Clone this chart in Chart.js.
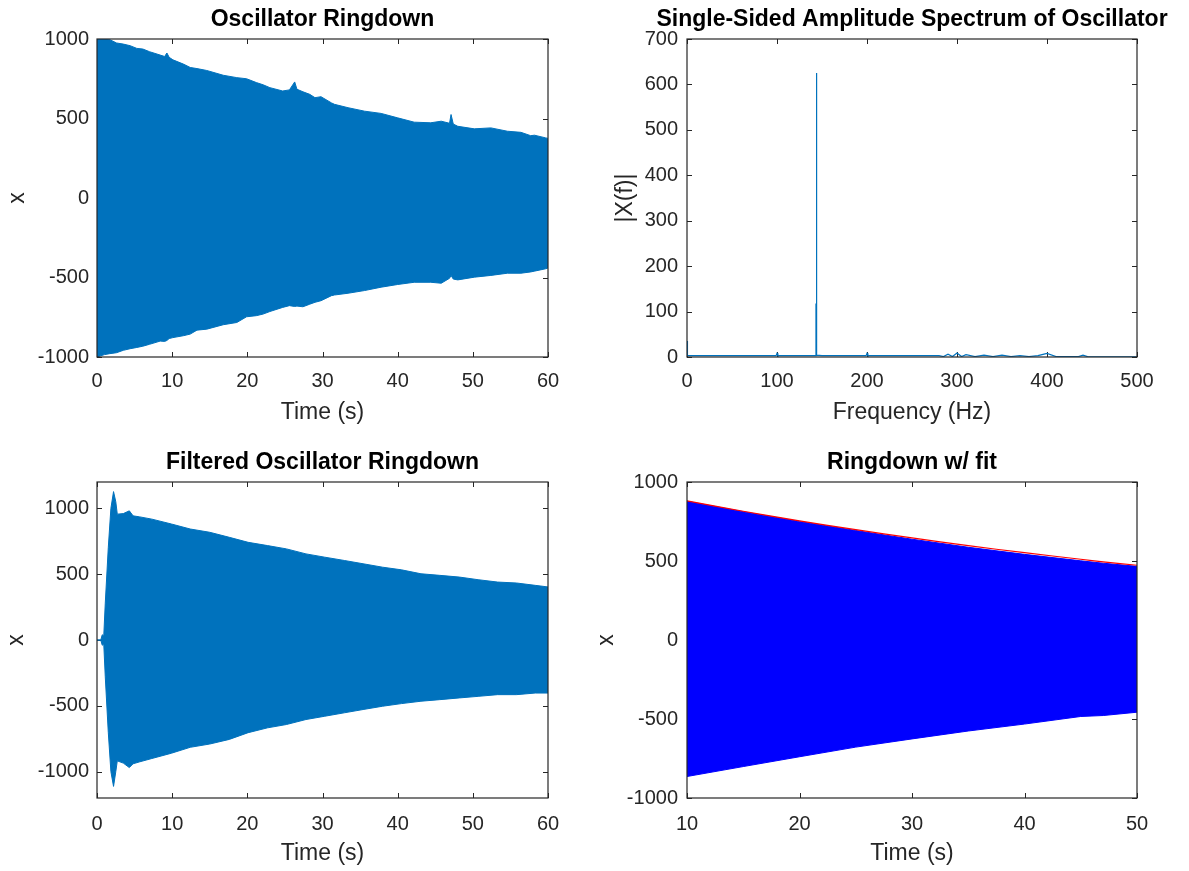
<!DOCTYPE html>
<html lang="en">
<head>
    <meta charset="UTF-8">
    <title>Oscillator Ringdown</title>
    <script src="https://cdn.jsdelivr.net/npm/chart.js"></script>
    <style>
        body {
            margin: 0;
            background: #ffffff;
            width: 1189px;
            height: 871px;
            position: relative;
            overflow: hidden;
        }
        .panel {
            position: absolute;
        }
    </style>
</head>
<body>
    <div class="panel" style="left:0px; top:0px;"><canvas id="rawChart" width="594" height="440"></canvas></div>
    <div class="panel" style="left:594px; top:0px;"><canvas id="specChart" width="595" height="440"></canvas></div>
    <div class="panel" style="left:0px; top:440px;"><canvas id="filtChart" width="594" height="431"></canvas></div>
    <div class="panel" style="left:594px; top:440px;"><canvas id="fitChart" width="595" height="431"></canvas></div>

    <script>
        // raw ringdown envelope (top left)
        const rawTime  = [0, 1.0, 1.7, 2.6, 3.5, 4.4, 5.3, 6.1, 7.0, 8.4, 9.0, 9.3, 9.6, 10.1, 11.5, 12.4, 13.3, 14.6, 16.8, 18.6, 19.9, 21.2, 22.1, 23.0, 24.7, 25.6, 26.3, 26.6, 27.4, 28.3, 29.0, 29.8, 31.2, 31.6, 33.4, 35.6, 37.8, 40.0, 42.2, 44.4, 45.8, 46.9, 47.1, 47.4, 48.0, 50.2, 52.4, 54.6, 56.4, 57.7, 58.2, 59.7, 60];
        const rawUpper = [1010, 1005, 996, 975, 968, 958, 941, 937, 920, 899, 890, 912, 885, 869, 842, 821, 814, 802, 772, 757, 750, 726, 712, 694, 673, 680, 730, 684, 668, 652, 631, 637, 598, 589, 568, 546, 532, 504, 477, 473, 483, 470, 525, 465, 451, 435, 441, 420, 413, 392, 395, 378, 375];
        const rawLower = [-1000, -985, -979, -973, -958, -948, -940, -932, -920, -900, -902, -896, -884, -878, -866, -856, -831, -825, -797, -783, -747, -740, -730, -714, -688, -677, -682, -680, -684, -668, -656, -646, -614, -610, -599, -582, -561, -544, -530, -530, -536, -505, -487, -510, -515, -498, -487, -473, -473, -465, -460, -445, -440];

        // single-sided amplitude spectrum (top right)
        const specFreq = [0, 0.5, 20, 50, 99, 100, 101, 140, 143.0, 143.3, 143.5, 143.8, 144.2, 150, 199, 200, 201, 250, 280, 285, 290, 295, 300, 305, 310, 320, 330, 340, 350, 360, 370, 380, 390, 400, 410, 435, 440, 445, 500];
        const specAmp  = [35, 3, 3, 3, 3, 8, 3, 3, 3, 118, 30, 625, 4, 3, 3, 8, 3, 3, 3, 1, 6, 1, 9, 1, 5, 1, 4, 1, 4, 1, 3, 1, 3, 8, 1, 1, 4, 1, 0.5];

        // filtered ringdown envelope (bottom left)
        const filtTime  = [0, 0.5, 0.7, 0.9, 1.1, 1.5, 1.85, 2.2, 2.5, 2.7, 3.5, 4.3, 4.8, 5.7, 7.3, 9.9, 12.4, 15.0, 17.6, 20.1, 22.7, 25.2, 27.8, 30.3, 32.9, 35.4, 38.0, 40.5, 43.1, 45.6, 48.2, 50.7, 53.3, 55.8, 58.3, 60];
        const filtUpper = [0, 0, 40, 30, 280, 700, 1000, 1127, 1050, 956, 960, 981, 943, 935, 918, 881, 843, 818, 780, 742, 717, 692, 654, 629, 604, 579, 553, 533, 503, 491, 478, 458, 440, 433, 415, 403];
        const filtLower = [0, 0, -40, -30, -280, -700, -1000, -1112, -1000, -918, -935, -969, -940, -925, -900, -860, -815, -790, -755, -704, -667, -642, -604, -579, -553, -528, -503, -483, -465, -453, -440, -428, -415, -415, -403, -403];

        // ringdown with exponential fit (bottom right)
        const fitTime  = [10, 15, 20, 25, 30, 35, 40, 45, 47, 50];
        const fitCurve = [881, 815, 754, 698, 646, 597, 553, 511, 495, 473];
        const fitUpper = [878, 812, 750, 693, 638, 587, 542, 501, 486, 466];
        const fitLower = [-864, -801, -739, -678, -626, -576, -532, -484, -478, -457];

        // tick labels
        const timeTicks60 = [0, 10, 20, 30, 40, 50, 60];
        const timeTicks50 = [10, 20, 30, 40, 50];
        const freqTicks   = [0, 100, 200, 300, 400, 500];
        const rawYTicks   = [-1000, -500, 0, 500, 1000];
        const specYTicks  = [0, 100, 200, 300, 400, 500, 600, 700];
        const filtYTicks  = [-1000, -500, 0, 500, 1000];
        const fitYTicks   = [-1000, -500, 0, 500, 1000];

        const FONT = '"Liberation Sans", Arial, Helvetica, sans-serif';
        const AXIS_COLOR = "#262626";
        const MATLAB_BLUE = "#0072BD";

        Chart.defaults.font.family = FONT;
        Chart.defaults.color = AXIS_COLOR;

        function pts(xs, ys) {
            return xs.map((x, i) => ({ x: x, y: ys[i] }));
        }

        // box, inward ticks on all four sides, and bold title above the axes
        const matlabAxes = {
            id: "matlabAxes",
            beforeDatasetsDraw(chart) {
                const { ctx, chartArea: a, scales } = chart;
                ctx.save();
                ctx.strokeStyle = AXIS_COLOR;
                ctx.lineWidth = 1;
                ctx.beginPath();
                scales.x.ticks.forEach(t => {
                    const px = Math.round(scales.x.getPixelForValue(t.value)) + 0.5;
                    ctx.moveTo(px, a.bottom); ctx.lineTo(px, a.bottom - 5);
                    ctx.moveTo(px, a.top); ctx.lineTo(px, a.top + 5);
                });
                scales.y.ticks.forEach(t => {
                    const py = Math.round(scales.y.getPixelForValue(t.value)) + 0.5;
                    ctx.moveTo(a.left, py); ctx.lineTo(a.left + 5, py);
                    ctx.moveTo(a.right, py); ctx.lineTo(a.right - 5, py);
                });
                ctx.stroke();
                ctx.restore();
            },
            afterDatasetsDraw(chart, args, opts) {
                const { ctx, chartArea: a } = chart;
                ctx.save();
                ctx.strokeStyle = AXIS_COLOR;
                ctx.lineWidth = 1.2;
                ctx.strokeRect(a.left, a.top, a.right - a.left, a.bottom - a.top);
                ctx.fillStyle = "#000000";
                ctx.font = "bold 23px " + FONT;
                ctx.textAlign = "center";
                ctx.textBaseline = "middle";
                ctx.fillText(opts.text, (a.left + a.right) / 2, a.top - 19);
                ctx.restore();
            }
        };

        function makeOptions(cfg) {
            return {
                responsive: false,
                animation: false,
                events: [],
                layout: { padding: { top: cfg.top, right: cfg.right, left: 0, bottom: 0 } },
                plugins: {
                    legend: { display: false },
                    tooltip: { enabled: false },
                    matlabAxes: { text: cfg.title }
                },
                scales: {
                    x: {
                        type: "linear",
                        min: cfg.xTicks[0],
                        max: cfg.xTicks[cfg.xTicks.length - 1],
                        grid: { display: false, drawTicks: false },
                        border: { display: false },
                        ticks: {
                            font: { size: 20 }, color: AXIS_COLOR, padding: cfg.xTickPad,
                            maxRotation: 0, autoSkip: false,
                            callback: v => String(v)
                        },
                        title: {
                            display: true, text: cfg.xLabel, color: AXIS_COLOR,
                            font: { size: 23, lineHeight: 1 },
                            padding: { top: 0, bottom: cfg.xLabelPad }
                        },
                        afterBuildTicks: s => { s.ticks = cfg.xTicks.map(v => ({ value: v })); },
                        afterFit: s => { s.height = cfg.xHeight; s.paddingLeft = 0; s.paddingRight = 0; }
                    },
                    y: {
                        type: "linear",
                        min: cfg.yMin,
                        max: cfg.yMax,
                        grid: { display: false, drawTicks: false },
                        border: { display: false },
                        ticks: {
                            font: { size: 20 }, color: AXIS_COLOR, padding: cfg.yTickPad,
                            autoSkip: false,
                            callback: v => String(v)
                        },
                        title: {
                            display: true, text: cfg.yLabel, color: AXIS_COLOR,
                            font: { size: 23, lineHeight: 1 },
                            padding: { top: cfg.yLabelPad, bottom: 0 }
                        },
                        afterBuildTicks: s => { s.ticks = cfg.yTicks.map(v => ({ value: v })); },
                        afterFit: s => { s.width = cfg.yWidth; s.paddingTop = 0; s.paddingBottom = 0; }
                    }
                }
            };
        }

        function envelope(xs, upper, lower, color) {
            return [
                {
                    data: pts(xs, upper), borderColor: color, backgroundColor: color,
                    borderWidth: 1, pointRadius: 0, tension: 0, fill: "+1"
                },
                {
                    data: pts(xs, lower), borderColor: color, backgroundColor: color,
                    borderWidth: 1, pointRadius: 0, tension: 0, fill: false
                }
            ];
        }

        new Chart(document.getElementById("rawChart"), {
            type: "line",
            data: { datasets: envelope(rawTime, rawUpper, rawLower, MATLAB_BLUE) },
            options: makeOptions({
                title: "Oscillator Ringdown", xLabel: "Time (s)", yLabel: "x",
                top: 39, right: 46, yWidth: 97, xHeight: 83,
                xTicks: timeTicks60, yTicks: rawYTicks, yMin: -1000, yMax: 1000,
                xTickPad: 12, xLabelPad: 16, yTickPad: 8, yLabelPad: 6
            }),
            plugins: [matlabAxes]
        });

        new Chart(document.getElementById("specChart"), {
            type: "line",
            data: {
                datasets: [{
                    data: pts(specFreq, specAmp), borderColor: MATLAB_BLUE,
                    borderWidth: 1.2, pointRadius: 0, tension: 0, fill: false
                }]
            },
            options: makeOptions({
                title: "Single-Sided Amplitude Spectrum of Oscillator", xLabel: "Frequency (Hz)", yLabel: "|X(f)|",
                top: 39, right: 52, yWidth: 93, xHeight: 83,
                xTicks: freqTicks, yTicks: specYTicks, yMin: 0, yMax: 700,
                xTickPad: 12, xLabelPad: 16, yTickPad: 9, yLabelPad: 20
            }),
            plugins: [matlabAxes]
        });

        new Chart(document.getElementById("filtChart"), {
            type: "line",
            data: { datasets: envelope(filtTime, filtUpper, filtLower, MATLAB_BLUE) },
            options: makeOptions({
                title: "Filtered Oscillator Ringdown", xLabel: "Time (s)", yLabel: "x",
                top: 42, right: 46, yWidth: 97, xHeight: 73,
                xTicks: timeTicks60, yTicks: filtYTicks, yMin: -1200, yMax: 1200,
                xTickPad: 14, xLabelPad: 6, yTickPad: 8, yLabelPad: 5
            }),
            plugins: [matlabAxes]
        });

        const fitSets = envelope(fitTime, fitUpper, fitLower, "#0000FF");
        fitSets[0].fill = 2;
        new Chart(document.getElementById("fitChart"), {
            type: "line",
            data: {
                datasets: [{
                    data: pts(fitTime, fitCurve), borderColor: "#FF0000",
                    borderWidth: 1.2, pointRadius: 0, tension: 0.4, fill: false
                }].concat(fitSets)
            },
            options: makeOptions({
                title: "Ringdown w/ fit", xLabel: "Time (s)", yLabel: "x",
                top: 42, right: 52, yWidth: 93, xHeight: 73,
                xTicks: timeTicks50, yTicks: fitYTicks, yMin: -1000, yMax: 1000,
                xTickPad: 14, xLabelPad: 6, yTickPad: 9, yLabelPad: 1
            }),
            plugins: [matlabAxes]
        });
    </script>
</body>
</html>
